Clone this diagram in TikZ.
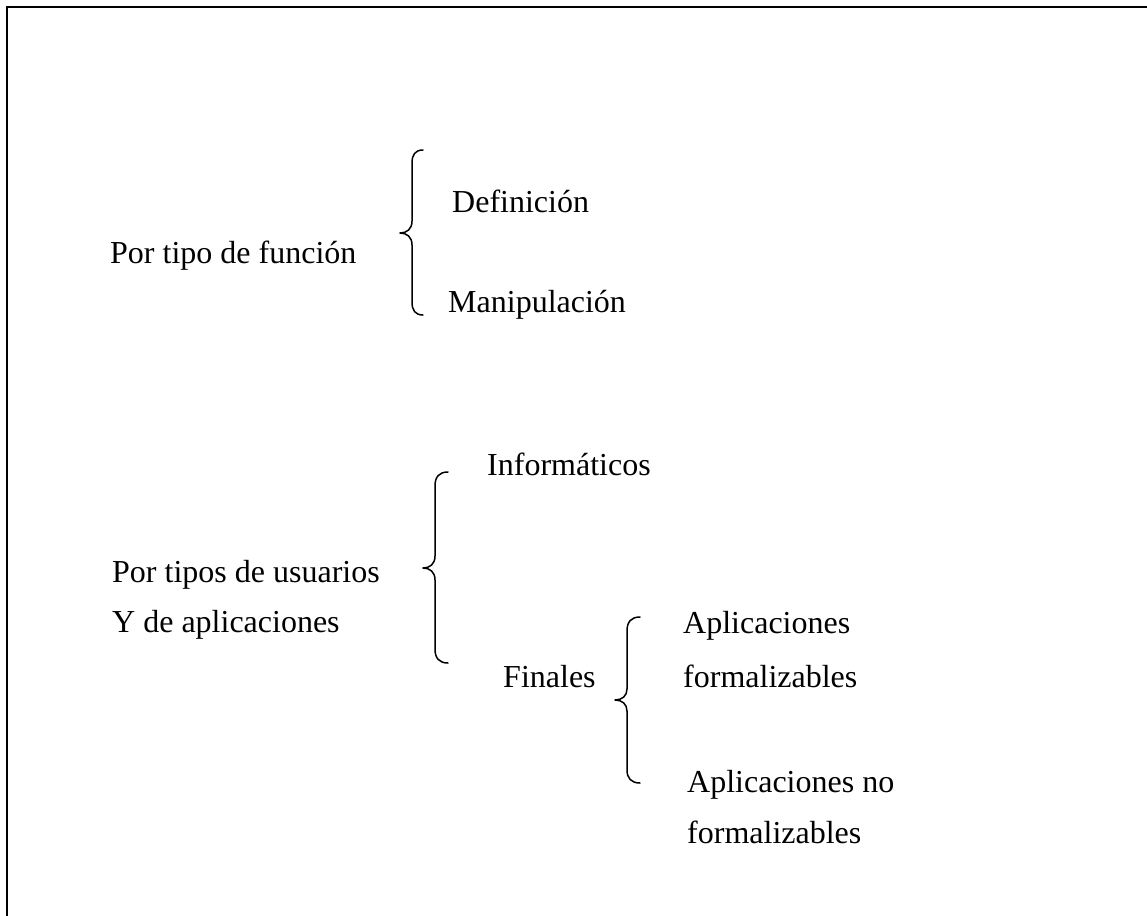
\documentclass[tikz,border=0pt]{standalone}
\usepackage{fontspec}
\setmainfont{Liberation Serif}
\begin{document}
\begin{tikzpicture}[x=1pt,y=-1pt,
  label/.style={anchor=base west,inner sep=0pt,font=\fontsize{32}{38}\selectfont},
  brace/.style={line width=1.5pt,line cap=round,line join=round},
  frame/.style={line width=2.3pt}]
\useasboundingbox (0,0) rectangle (1147,915);
% open frame: top and left edges
\draw[frame] (1150,7) -- (7,7) -- (7,920);

% first group
\node[label] (func) at (110,263) {Por tipo de función};
\node[label] (def)  at (452,212) {Definición};
\node[label] (man)  at (448,312) {Manipulación};
\draw[brace] (423,150) .. controls (415,150) and (412,155) .. (412,163)
  -- (412,221) .. controls (412,229) and (407,233) .. (400,233)
  .. controls (407,233) and (412,237) .. (412,245)
  -- (412,302) .. controls (412,310) and (415,315) .. (423,315);

% second group
\node[label] (usu)  at (112,582) {Por tipos de usuarios};
\node[label] (apl)  at (112,632) {Y de aplicaciones};
\node[label] (inf)  at (487,475) {Informáticos};
\node[label] (fin)  at (503,687) {Finales};
\draw[brace] (448,472) .. controls (439,472) and (435,477) .. (435,486)
  -- (435,556) .. controls (435,564) and (430,568) .. (423,568)
  .. controls (430,568) and (435,572) .. (435,580)
  -- (435,649) .. controls (435,658) and (439,663) .. (448,663);

% third group
\node[label] (af1) at (683,633) {Aplicaciones};
\node[label] (af2) at (683,687) {formalizables};
\node[label] (an1) at (687,792) {Aplicaciones no};
\node[label] (an2) at (687,843) {formalizables};
\draw[brace] (640,617) .. controls (631,617) and (627,622) .. (627,631)
  -- (627,689) .. controls (627,696) and (622,700) .. (615,700)
  .. controls (622,700) and (627,704) .. (627,711)
  -- (627,770) .. controls (627,778) and (631,783) .. (640,783);
\end{tikzpicture}
\end{document}
